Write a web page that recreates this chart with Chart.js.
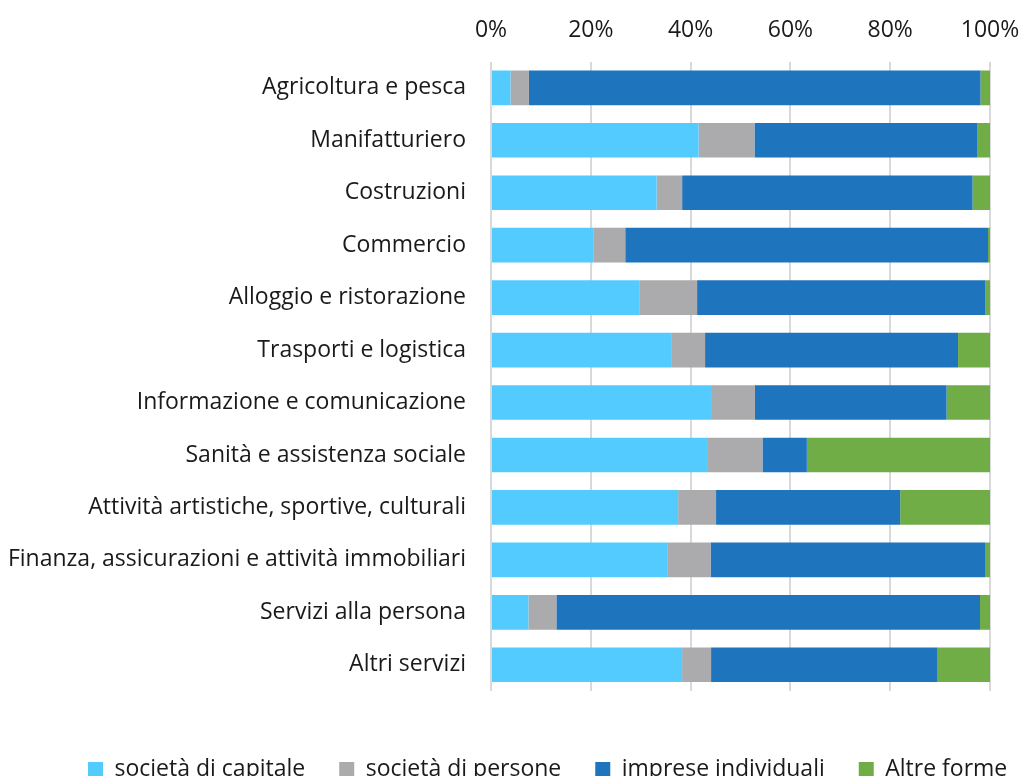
<!DOCTYPE html>
<html>
<head>
<meta charset="utf-8">
<script src="https://cdn.jsdelivr.net/npm/chart.js@4.4.0/dist/chart.umd.min.js"></script>
<style>
  html, body { margin: 0; padding: 0; background: #fff; overflow: hidden; }
  #wrap { width: 1025px; height: 791px; }
</style>
</head>
<body>
<div id="wrap"><canvas id="chart"></canvas></div>
<script>
const categories = [
  'Agricoltura e pesca',
  'Manifatturiero',
  'Costruzioni',
  'Commercio',
  'Alloggio e ristorazione',
  'Trasporti e logistica',
  'Informazione e comunicazione',
  'Sanità e assistenza sociale',
  'Attività artistiche, sportive, culturali',
  'Finanza, assicurazioni e attività immobiliari',
  'Servizi alla persona',
  'Altri servizi'
];
const seriesNames = ['società di capitale', 'società di persone', 'imprese individuali', 'Altre forme'];
const seriesColors = ['#53cbff', '#ababad', '#1f74be', '#70ad47'];

const capitale    = [3.9, 41.6, 33.2, 20.6, 29.7, 36.1, 44.1, 43.3, 37.5, 35.3, 7.5, 38.3];
const persone     = [3.7, 11.2, 5.1, 6.3, 11.6, 6.8, 8.8, 11.1, 7.6, 8.7, 5.6, 5.8];
const individuali = [90.5, 44.7, 58.2, 72.7, 57.8, 50.7, 38.4, 8.9, 36.9, 55.0, 84.9, 45.4];
const altre       = [1.9, 2.5, 3.5, 0.4, 0.9, 6.4, 8.7, 36.7, 18.0, 1.0, 2.0, 10.5];

const tickValues = [0, 20, 40, 60, 80, 100];

const allSeries = [capitale, persone, individuali, altre];
const datasets = allSeries.map((vals, i) => ({
  label: seriesNames[i],
  data: vals,
  backgroundColor: seriesColors[i],
  borderWidth: 0,
  barPercentage: 0.66,
  categoryPercentage: 1
}));

const font = '"Open Sans", sans-serif';
const fsize = 23;
const legendPad = 34;

// keep the legend on one row and start it where the original does
const legendOneRow = {
  id: 'legendOneRow',
  beforeLayout(chart) {
    const lg = chart.legend;
    if (!lg || lg._patched) return;
    const fit = lg.fit;
    lg.fit = function () {
      const mw = this.maxWidth;
      this.maxWidth = 3000;
      fit.call(this);
      this.maxWidth = mw;
      this.width = mw;
    };
    lg._patched = true;
  },
  afterLayout(chart) {
    chart.legend.left = 88 - legendPad;
    chart.legend.right = 3000;
  }
};

const ctx = document.getElementById('chart').getContext('2d');
new Chart(ctx, {
  type: 'bar',
  data: { labels: categories, datasets: datasets },
  plugins: [legendOneRow],
  options: {
    indexAxis: 'y',
    responsive: true,
    maintainAspectRatio: false,
    animation: false,
    layout: { padding: { top: 0, right: 35, left: 0, bottom: 0 } },
    scales: {
      x: {
        position: 'top',
        stacked: true,
        min: 0,
        max: 100,
        afterBuildTicks: axis => { axis.ticks = tickValues.map(v => ({ value: v })); },
        afterFit: s => { s.paddingLeft = 0; s.paddingRight = 0; },
        ticks: {
          callback: v => v + '%',
          font: { family: font, size: fsize },
          color: '#1a1a1a',
          padding: 17
        },
        grid: { color: '#d9d9d9', lineWidth: 2, drawTicks: false },
        border: { display: false }
      },
      // empty spacer axis between the bars and the legend
      gap: {
        type: 'linear',
        axis: 'x',
        position: 'bottom',
        display: true,
        ticks: { display: false },
        grid: { display: false, drawTicks: false },
        border: { display: false },
        afterFit: s => { s.height = 33; s.paddingLeft = 0; s.paddingRight = 0; }
      },
      y: {
        stacked: true,
        ticks: {
          font: { family: font, size: fsize },
          color: '#1a1a1a',
          padding: 25
        },
        grid: { display: false, drawTicks: false },
        border: { display: false },
        afterFit: s => { s.width = 491; }
      }
    },
    plugins: {
      legend: {
        position: 'bottom',
        align: 'start',
        labels: {
          font: { family: font, size: fsize },
          color: '#1a1a1a',
          boxWidth: 15,
          boxHeight: 15,
          padding: legendPad
        }
      },
      tooltip: { enabled: false }
    }
  }
});
</script>
</body>
</html>
